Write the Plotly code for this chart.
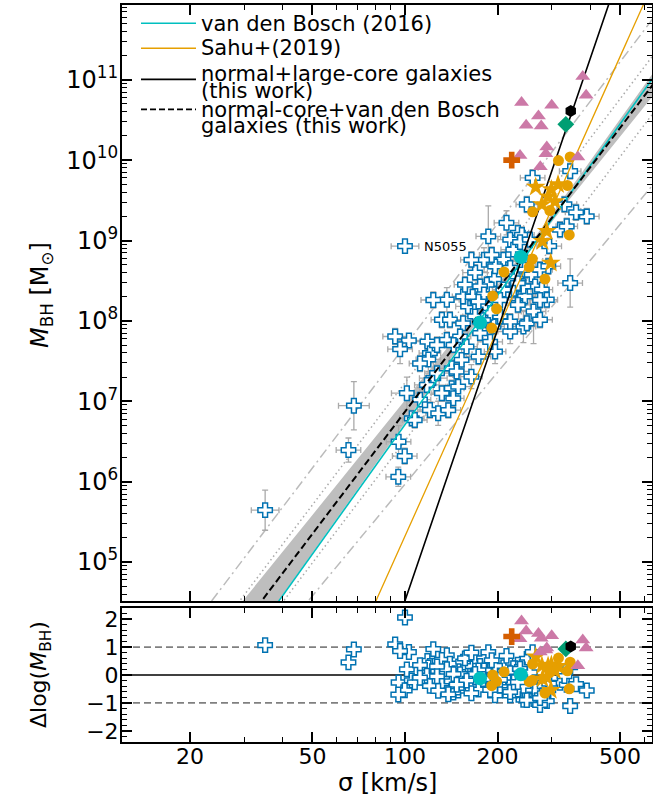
import numpy as np
import plotly.graph_objects as go

# ---------------- data ----------------
# blue open crosses: sigma [km/s], log10 M_BH, errors (dex)
cross_sigma = [
    35.1, 65.5, 68.2, 100.0, 92.9, 103.0, 96.4, 101.4, 95.3, 99.8, 95.1, 105.2, 107.6,
    118.3, 120.5, 119.1, 123.6, 117.8, 131.8, 141.9, 148.9, 143.5, 120.5, 128.2, 136.8, 131.8, 140.0, 136.8, 154.5, 152.8, 141.9, 154.5, 160.3,
    169.0, 182.4, 233.9, 261.8, 151.0, 175.4, 194.1, 242.7, 219.8, 196.3,
    173.4, 164.4, 166.0, 169.0, 180.7, 195.0, 184.5, 186.6, 156.7, 175.4,
    248.9, 260.0, 232.8, 219.8, 224.9, 245.5, 208.9, 196.3, 219.8, 230.7,
    245.5, 258.2, 274.8, 264.9, 278.6, 292.4, 289.1, 222.3, 245.5, 232.8,
    219.8, 203.7, 248.9, 274.8, 319.2, 335.7, 390.0, 344.4, 344.4, 294.4,
    239.9, 236.6, 242.7, 226.0, 180.7, 164.4, 191.4, 213.8, 254.7, 173.4,
    208.9, 203.7, 169.0, 189.2, 232.8, 274.8, 127.1, 143.9, 158.5, 189.2,
    179.5, 111.9, 127.1, 147.2, 111.9, 138.3, 123.6, 360.0, 330.0,
]
cross_logm = [
    5.645, 6.393, 6.945, 8.93, 7.806, 7.756, 7.648, 7.10, 6.496, 6.318, 6.06, 6.788, 6.767,
    7.743, 7.599, 7.52, 7.287, 7.203, 7.10, 7.162, 7.182, 7.037, 6.891, 6.85, 8.263, 8.014, 8.014, 7.764, 7.97, 7.515, 7.41, 8.304, 8.18,
    8.222, 8.20, 8.222, 8.117, 7.805, 7.848, 7.93, 7.93, 7.868, 7.618,
    7.556, 7.307, 8.30, 8.60, 8.76, 8.52, 8.45, 9.052, 8.45, 8.429,
    9.448, 9.78, 9.095, 9.011, 8.887, 8.783, 8.762, 8.678, 8.658, 8.554,
    8.637, 8.575, 8.637, 8.429, 8.388, 8.68, 8.263, 8.388, 8.304, 8.20,
    7.99, 8.055, 7.97, 8.014, 9.136, 9.177, 9.30, 8.471, 9.863, 8.93,
    9.07, 8.98, 8.43, 8.40, 8.33, 8.76, 8.82, 9.22, 9.01, 8.24,
    8.39, 8.26, 8.055, 8.10, 8.47, 8.26, 7.70, 7.70, 7.68, 7.74,
    8.01, 7.47, 7.35, 7.37, 7.02, 6.89, 8.26, 9.35, 9.45,
]
cross_err_logm = [
    0.25, 0.15, 0.30, 0.08, 0.10, 0.08, 0.18, 0.20, 0.20, 0.10, 0.12, 0.10, 0.10,
    0.10, 0.12, 0.15, 0.20, 0.10, 0.10, 0.10, 0.15, 0.10, 0.10, 0.15, 0.15, 0.10, 0.10, 0.10, 0.10, 0.15, 0.10, 0.10, 0.10,
    0.10, 0.10, 0.20, 0.40, 0.10, 0.10, 0.10, 0.20, 0.15, 0.15,
    0.10, 0.15, 0.10, 0.10, 0.15, 0.10, 0.10, 0.38, 0.10, 0.10,
    0.10, 0.10, 0.10, 0.10, 0.15, 0.10, 0.10, 0.10, 0.10, 0.10,
    0.10, 0.10, 0.10, 0.35, 0.10, 0.10, 0.10, 0.10, 0.10, 0.10,
    0.10, 0.10, 0.10, 0.10, 0.10, 0.10, 0.10, 0.30, 0.10, 0.10,
    0.10, 0.10, 0.10, 0.10, 0.10, 0.10, 0.10, 0.15, 0.10, 0.10,
    0.10, 0.10, 0.10, 0.10, 0.10, 0.10, 0.10, 0.10, 0.10, 0.10,
    0.10, 0.10, 0.10, 0.10, 0.15, 0.10, 0.10, 0.10, 0.10,
]
cross_err_logsig = [
    0.045, 0.04, 0.05, 0.045, 0.04, 0.04, 0.04, 0.05, 0.04, 0.04, 0.04, 0.04, 0.04,
    0.04, 0.035, 0.04, 0.045, 0.04, 0.035, 0.04, 0.04, 0.035, 0.04, 0.04, 0.04, 0.035, 0.04, 0.04, 0.035, 0.04, 0.04, 0.035, 0.04,
    0.04, 0.035, 0.04, 0.04, 0.035, 0.04, 0.035, 0.04, 0.04, 0.035,
    0.04, 0.035, 0.04, 0.04, 0.035, 0.04, 0.035, 0.04, 0.035, 0.04,
    0.035, 0.04, 0.035, 0.04, 0.04, 0.035, 0.04, 0.035, 0.04, 0.035,
    0.04, 0.035, 0.04, 0.04, 0.035, 0.04, 0.035, 0.04, 0.035, 0.04,
    0.035, 0.04, 0.035, 0.04, 0.04, 0.035, 0.04, 0.04, 0.035, 0.04,
    0.04, 0.035, 0.04, 0.035, 0.04, 0.035, 0.04, 0.04, 0.035, 0.04,
    0.035, 0.04, 0.04, 0.035, 0.04, 0.035, 0.04, 0.04, 0.035, 0.04,
    0.04, 0.035, 0.04, 0.04, 0.035, 0.04, 0.04, 0.035, 0.04,
]

orange_circle_sigma = [315.5, 344.4, 337.3, 260.0, 295.8, 342.0, 209.9, 259.4, 253.5, 285.1, 192.8, 198.6, 191.4]
orange_circle_logm = [9.995, 10.04, 9.685, 9.357, 9.373, 9.07, 8.608, 8.77, 8.67, 8.52, 8.31, 8.15, 7.91]

orange_star_sigma = [266.1, 299.2, 314.5, 291.9, 307.3, 278.7, 289.1, 279.9, 297.8]
orange_star_logm = [9.666, 9.635, 9.697, 9.546, 9.484, 9.448, 9.115, 8.99, 8.72]

pink_sigma = [378.4, 388.1, 239.3, 299.9, 271.6, 247.7, 277.3, 289.1, 236.6, 287.1, 364.8, 275.4]
pink_logm = [11.04, 10.807, 10.716, 10.682, 10.549, 10.433, 10.424, 10.162, 10.058, 10.08, 10.04, 9.918]

red_sigma = [222.3]
red_logm = [10.0]
green_sigma = [333.4]
green_logm = [10.445]
black_sigma = [345.9]
black_logm = [10.611]
cyan_sigma = [238.0, 175.4]
cyan_logm = [8.795, 7.98]

label_name = "N5055"
label_sigma = 114.0
label_logm = 8.93

# relations: log M = A + B log(sigma/200)
VDB_A, VDB_B = 8.32, 5.35          # van den Bosch (2016)
SAHU_A, SAHU_B = 7.89, 8.53        # Sahu+(2019)
LARGE_A, LARGE_B = 7.89, 11.2      # normal+large-core (this work)
NC_A, NC_B = 8.39, 5.05            # normal-core + vdB (this work)
NC_ERR_A, NC_ERR_B, NC_PIVOT = 0.04, 0.33, 2.40   # confidence band
SCATTER_1, SCATTER_2 = 0.36, 0.82  # dotted / upper dash-dot offsets
LOW_DD_A, LOW_DD_B = 7.36, 4.62    # lower dash-dot envelope

x_ticks = [20, 50, 100, 200, 500]
x_minor = [30, 40, 60, 70, 80, 90, 300, 400, 600]
y_tick_exp = [5, 6, 7, 8, 9, 10, 11]

# ---------------- figure ----------------
FONT = "DejaVu Sans"
BLUE = "#0072B2"
ORANGE = "#E69F00"
PINK = "#CC79A7"
VERM = "#D55E00"
GREEN = "#009E73"
CYAN = "#00BFBF"
ERRC = "#AAAAAA"

fig = go.Figure()

grid = np.logspace(0.9, 2.9, 300)
lg = np.log10(grid / 200.0)


def rel(a, b):
    return 10 ** (a + b * lg)


# band
center = NC_A + NC_B * lg
hw = np.sqrt(NC_ERR_A ** 2 + (NC_ERR_B * (np.log10(grid) - NC_PIVOT)) ** 2)
fig.add_trace(go.Scatter(
    x=np.concatenate([grid, grid[::-1]]),
    y=10 ** np.concatenate([center + hw, (center - hw)[::-1]]),
    fill="toself", fillcolor="#BEBEBE", line=dict(width=0), mode="lines",
    hoverinfo="skip", showlegend=False, xaxis="x", yaxis="y"))

DD = "10px,4px,2px,4px"
DOT = "1.5px,3px"
for a, b, dash, col in [(NC_A + SCATTER_2, NC_B, DD, "#BBBBBB"),
                        (LOW_DD_A, LOW_DD_B, DD, "#BBBBBB"),
                        (NC_A + SCATTER_1, NC_B, DOT, "#AAAAAA"),
                        (NC_A - SCATTER_1, NC_B, DOT, "#AAAAAA")]:
    fig.add_trace(go.Scatter(x=grid, y=rel(a, b), mode="lines",
                             line=dict(color=col, width=1.5, dash=dash),
                             showlegend=False, hoverinfo="skip", xaxis="x", yaxis="y"))

# crosses with error bars
cs = np.array(cross_sigma)
cm = np.array(cross_logm)
em = np.array(cross_err_logm)
es = np.array(cross_err_logsig)
M = 10 ** cm
CROSS_MK = dict(symbol="cross", size=12, color="white", line=dict(color=BLUE, width=1.5))
fig.add_trace(go.Scatter(
    x=cs, y=M, mode="markers", marker=CROSS_MK,
    error_x=dict(type="data", symmetric=False, array=cs * (10 ** es - 1), arrayminus=cs * (1 - 10 ** -es),
                 color=ERRC, thickness=1.3, width=3),
    error_y=dict(type="data", symmetric=False, array=M * (10 ** em - 1), arrayminus=M * (1 - 10 ** -em),
                 color=ERRC, thickness=1.3, width=3),
    showlegend=False, xaxis="x", yaxis="y"))

# relation lines
fig.add_trace(go.Scatter(x=grid, y=rel(VDB_A, VDB_B), mode="lines", line=dict(color=CYAN, width=1.6),
                         showlegend=False, xaxis="x", yaxis="y"))
fig.add_trace(go.Scatter(x=grid, y=rel(SAHU_A, SAHU_B), mode="lines", line=dict(color=ORANGE, width=1.3),
                         showlegend=False, xaxis="x", yaxis="y"))
fig.add_trace(go.Scatter(x=grid, y=rel(LARGE_A, LARGE_B), mode="lines", line=dict(color="black", width=1.6),
                         showlegend=False, xaxis="x", yaxis="y"))
fig.add_trace(go.Scatter(x=grid, y=rel(NC_A, NC_B), mode="lines",
                         line=dict(color="black", width=2, dash="7px,3.5px"),
                         showlegend=False, xaxis="x", yaxis="y"))


def resid(sig, logm):
    return np.array(logm) - (NC_A + NC_B * np.log10(np.array(sig) / 200.0))


groups = [
    (orange_circle_sigma, orange_circle_logm, dict(symbol="circle", size=11, color=ORANGE)),
    (orange_star_sigma, orange_star_logm, dict(symbol="star", size=15, color=ORANGE)),
    (pink_sigma, pink_logm, dict(symbol="triangle-up", size=13, color=PINK)),
    (red_sigma, red_logm, dict(symbol="cross", size=14, color=VERM)),
    (green_sigma, green_logm, dict(symbol="diamond", size=13, color=GREEN)),
    (black_sigma, black_logm, dict(symbol="hexagon", size=12, color="black")),
    (cyan_sigma, cyan_logm, dict(symbol="circle", size=14, color=CYAN)),
]

# residual panel crosses
fig.add_trace(go.Scatter(x=cs, y=resid(cs, cm), mode="markers", marker=CROSS_MK,
                         showlegend=False, xaxis="x2", yaxis="y2"))

for sig, lm, mk in groups:
    fig.add_trace(go.Scatter(x=sig, y=10 ** np.array(lm), mode="markers", marker=mk,
                             showlegend=False, xaxis="x", yaxis="y"))
    fig.add_trace(go.Scatter(x=sig, y=resid(sig, lm), mode="markers", marker=mk,
                             showlegend=False, xaxis="x2", yaxis="y2"))

# ---------------- layout ----------------
L, R, T, B = 122, 1, 5, 60
W, H = 653, 802
PH = H - T - B


def py(Y):
    return (H - B - Y) / PH


def px(X):
    return (X - L) / (W - L - R)


axis_common = dict(showline=True, linewidth=2, linecolor="black", mirror="allticks",
                   ticks="inside", ticklen=10, tickwidth=1.5, tickcolor="black",
                   showgrid=False, zeroline=False, automargin=False)

minor_x = dict(tickmode="array", tickvals=x_minor, ticks="inside", ticklen=5, tickwidth=1.2,
               tickcolor="black", showgrid=False)

y_minor_vals = [m * 10 ** e for e in range(4, 12) for m in range(2, 10)]
XR = [np.log10(12.02), np.log10(635.5)]

fig.update_layout(
    width=W, height=H, margin=dict(l=L, r=R, t=T, b=B, autoexpand=False),
    paper_bgcolor="white", plot_bgcolor="white", showlegend=False,
    font=dict(family=FONT, color="black"),
    xaxis=dict(type="log", range=XR, domain=[0, 1], anchor="y",
               tickmode="array", tickvals=x_ticks, showticklabels=False, minor=minor_x,
               matches="x2", **axis_common),
    xaxis2=dict(type="log", range=XR, domain=[0, 1], anchor="y2",
                tickmode="array", tickvals=x_ticks, ticktext=[str(v) for v in x_ticks],
                minor=minor_x, ticklabelstandoff=-6,
                tickfont=dict(family=FONT, size=22, color="black"), **axis_common),
    yaxis=dict(type="log", range=[4.515, 11.93], domain=[py(601), 1], anchor="x",
               tickmode="array", tickvals=[10 ** e for e in y_tick_exp],
               ticktext=["10<sup>%d</sup>" % e for e in y_tick_exp],
               tickfont=dict(family=FONT, size=24, color="black"), ticklabelstandoff=-3,
               minor=dict(tickmode="array", tickvals=y_minor_vals, ticks="inside", ticklen=5,
                          tickwidth=1.2, tickcolor="black", showgrid=False),
               **axis_common),
    yaxis2=dict(range=[-2.4, 2.4], domain=[0, py(608)], anchor="x2",
                tickmode="array", tickvals=[-2, -1, 0, 1, 2], ticktext=["−2", "−1", "0", "1", "2"],
                tickfont=dict(family=FONT, size=22, color="black"), ticklabelstandoff=-3,
                minor=dict(tickmode="array", tickvals=[v / 5 for v in range(-12, 13) if v % 5 != 0],
                           ticks="inside", ticklen=5, tickwidth=1.2, tickcolor="black", showgrid=False),
                **axis_common),
)

shapes = [
    dict(type="line", xref="x2 domain", yref="y2", x0=0, x1=1, y0=0, y1=0,
         line=dict(color="black", width=1.6), layer="below"),
    dict(type="line", xref="x2 domain", yref="y2", x0=0, x1=1, y0=1, y1=1,
         line=dict(color="#808080", width=1.6, dash="7px,4px"), layer="below"),
    dict(type="line", xref="x2 domain", yref="y2", x0=0, x1=1, y0=-1, y1=-1,
         line=dict(color="#808080", width=1.6, dash="7px,4px"), layer="below"),
]

# manual legend
leg_lines = [(23.3, CYAN, None, 1.6), (48.3, ORANGE, None, 1.6), (79.3, "black", None, 1.8),
             (109.3, "black", "6px,3px", 1.8)]
for Y, col, dash, wd in leg_lines:
    ln = dict(color=col, width=wd)
    if dash:
        ln["dash"] = dash
    shapes.append(dict(type="line", xref="paper", yref="paper", x0=px(141), x1=px(196),
                       y0=py(Y), y1=py(Y), line=ln))
fig.update_layout(shapes=shapes)

annotations = []
leg_texts = [(24, "van den Bosch (2016)"), (48, "Sahu+(2019)"), (74, "normal+large-core galaxies"),
             (91, "(this work)"), (110, "normal-core+van den Bosch"), (126, "galaxies (this work)")]
for Y, t in leg_texts:
    annotations.append(dict(x=px(199), y=py(Y), xref="paper", yref="paper", text=t, showarrow=False,
                            xanchor="left", yanchor="middle", font=dict(family=FONT, size=21, color="black")))

annotations.append(dict(x=np.log10(label_sigma), y=label_logm, xref="x", yref="y", text=label_name,
                        showarrow=False, xanchor="left", yanchor="middle",
                        font=dict(family=FONT, size=13, color="black")))
annotations.append(dict(x=px(41), y=py(295), xref="paper", yref="paper",
                        text="<i>M</i><sub>BH</sub> [M<sub>⊙</sub>]", textangle=-90, showarrow=False,
                        xanchor="center", yanchor="middle",
                        font=dict(family=FONT, size=24, color="black")))
annotations.append(dict(x=px(40), y=py(675), xref="paper", yref="paper",
                        text="Δlog(<i>M</i><sub>BH</sub>)", textangle=-90, showarrow=False,
                        xanchor="center", yanchor="middle",
                        font=dict(family=FONT, size=22, color="black")))
annotations.append(dict(x=px(387), y=py(783), xref="paper", yref="paper",
                        text="σ [km/s]", showarrow=False, xanchor="center", yanchor="middle",
                        font=dict(family=FONT, size=24, color="black")))
fig.update_layout(annotations=annotations)

fig.write_html("out.html", config={"displayModeBar": False},
               post_script="document.body.style.margin='0';document.body.style.padding='0';")
